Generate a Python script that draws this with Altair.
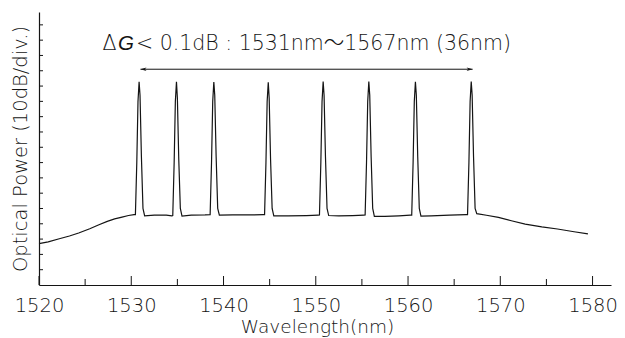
import altair as alt
import pandas as pd

# ---- spectrum trace (wavelength nm, optical power in arbitrary dB units; 5 units = half division)
wavelength = [
    1520.0, 1521.0, 1522.2, 1523.3, 1524.3, 1525.5, 1526.5, 1527.4, 1528.2, 1529.0, 1529.7, 1530.3,
    1530.45, 1530.6, 1530.73, 1530.85, 1530.95, 1531.1, 1531.27, 1531.45,
    1532.5, 1533.8, 1534.4,
    1534.5, 1534.65, 1534.78, 1534.9, 1535.0, 1535.15, 1535.32, 1535.5,
    1536.5, 1538.0,
    1538.55, 1538.7, 1538.83, 1538.95, 1539.05, 1539.2, 1539.37, 1539.55,
    1541.0, 1543.0, 1544.3,
    1544.45, 1544.6, 1544.73, 1544.85, 1544.95, 1545.1, 1545.27, 1545.45,
    1547.0, 1549.0, 1550.25,
    1550.4, 1550.55, 1550.68, 1550.8, 1550.9, 1551.05, 1551.22, 1551.4,
    1552.5, 1554.0, 1555.2,
    1555.35, 1555.5, 1555.63, 1555.75, 1555.85, 1556.0, 1556.17, 1556.35,
    1557.5, 1559.0, 1560.25,
    1560.4, 1560.55, 1560.68, 1560.8, 1560.9, 1561.05, 1561.22, 1561.4,
    1562.5, 1564.5, 1566.3,
    1566.45, 1566.6, 1566.73, 1566.85, 1566.95, 1567.1, 1567.27, 1567.45,
    1568.5, 1569.8, 1571.2, 1572.7, 1574.5, 1576.2, 1578.0, 1579.5,
]
power = [
    13.5, 14.1, 15.1, 16.0, 17.0, 18.4, 19.7, 20.8, 21.6, 22.2, 22.7, 23.0,
    23.0, 40.0, 60.0, 66.4, 62.0, 42.0, 25.0, 22.6,
    22.8, 22.8, 22.6,
    22.7, 40.0, 60.0, 66.4, 61.0, 41.0, 25.0, 22.5,
    22.8, 22.9,
    23.0, 40.0, 60.0, 66.3, 62.0, 42.0, 25.0, 22.8,
    22.9, 22.9, 23.0,
    23.0, 40.0, 60.0, 66.2, 61.0, 41.0, 25.0, 22.6,
    22.6, 22.7, 22.8,
    22.9, 40.0, 60.0, 66.5, 62.0, 42.0, 25.0, 22.7,
    22.6, 22.7, 22.8,
    22.9, 40.0, 60.0, 66.5, 62.0, 42.0, 25.0, 22.4,
    22.4, 22.6, 22.8,
    22.8, 40.0, 60.0, 66.4, 62.0, 42.0, 25.0, 22.5,
    22.6, 22.8, 23.0,
    23.0, 40.0, 60.0, 66.5, 62.0, 42.0, 25.0, 23.3,
    22.8, 22.1, 21.0, 19.9, 19.0, 18.3, 17.4, 16.7,
]

x_major_ticks = [1520, 1530, 1540, 1550, 1560, 1570, 1580]
x_minor_ticks = [1525, 1535, 1545, 1555, 1565, 1575]
y_ticks = [5, 10, 15, 20, 25, 30, 35, 40, 45, 50, 55, 60, 65, 70, 75, 80, 85]

arrow_from, arrow_to, arrow_level = 1531, 1567, 70.5
label_delta = "Δ"
label_g = "G"
label_rest = "< 0.1dB : 1531nm～1567nm (36nm)"
label_delta_x, label_g_x, label_rest_x, label_y = 1528.4, 1530.3, 1530.51, 76.8

W, H = 572, 273
FONT = "DejaVu Sans, Noto Sans CJK JP"
INK = "#141414"
WEIGHT = 200

xs = alt.Scale(domain=[1520, 1582], nice=False, zero=False)
ys = alt.Scale(domain=[0, 89.2], nice=False, zero=False)

X_AXIS = alt.Axis(
    values=x_major_ticks, format="d", ticks=False, grid=False, domainColor=INK, domainWidth=1.2,
    labelFont=FONT, labelFontSize=19.5, labelFontWeight=WEIGHT, labelColor=INK, labelPadding=11,
    labelFlush=False,
    title="Wavelength(nm)", titleFont=FONT, titleFontSize=18.5, titleFontWeight=WEIGHT,
    titleColor=INK, titlePadding=3, titleX=278)
Y_AXIS = alt.Axis(
    labels=False, ticks=False, grid=False, domainColor=INK, domainWidth=1.2,
    title="Optical Power (10dB/div.)", titleFont=FONT, titleFontSize=19.5,
    titleFontWeight=WEIGHT, titleColor=INK, titlePadding=9)


def xenc(field="wl"):
    return alt.X(f"{field}:Q", scale=xs, axis=X_AXIS)


def yenc(field="p"):
    return alt.Y(f"{field}:Q", scale=ys, axis=Y_AXIS)


trace = pd.DataFrame({"wl": wavelength, "p": power})
line = alt.Chart(trace).mark_line(color=INK, strokeWidth=1.2).encode(x=xenc(), y=yenc())

xmaj = alt.Chart(pd.DataFrame({"wl": x_major_ticks})).mark_rule(color=INK, strokeWidth=1).encode(
    x=xenc(), y=alt.value(H), y2=alt.value(H - 9))
xmin = alt.Chart(pd.DataFrame({"wl": x_minor_ticks})).mark_rule(color=INK, strokeWidth=1).encode(
    x=xenc(), y=alt.value(H), y2=alt.value(H - 6))
ytk = alt.Chart(pd.DataFrame({"p": y_ticks})).mark_rule(color=INK, strokeWidth=1).encode(
    y=yenc(), x=alt.value(0), x2=alt.value(4))

arr_df = pd.DataFrame({"wl": [arrow_from], "b": [arrow_to], "p": [arrow_level]})
arrow = alt.Chart(arr_df).mark_rule(color=INK, strokeWidth=1).encode(
    x=xenc(), x2="b:Q", y=yenc())

right_head = "M0,0 L-2,-0.55 L-1.45,0 L-2,0.55 Z"
left_head = "M0,0 L2,-0.55 L1.45,0 L2,0.55 Z"
headR = alt.Chart(pd.DataFrame({"wl": [arrow_to], "p": [arrow_level]})).mark_point(
    shape=right_head, filled=True, size=36, color=INK, opacity=1).encode(x=xenc(), y=yenc())
headL = alt.Chart(pd.DataFrame({"wl": [arrow_from], "p": [arrow_level]})).mark_point(
    shape=left_head, filled=True, size=36, color=INK, opacity=1).encode(x=xenc(), y=yenc())


def txt(s, xv, align, style="normal", weight=WEIGHT, font=FONT):
    return alt.Chart(pd.DataFrame({"wl": [xv], "p": [label_y], "s": [s]})).mark_text(
        font=font, fontSize=20.5, fontStyle=style, fontWeight=weight, color=INK, align=align,
        baseline="alphabetic").encode(x=xenc(), y=yenc(), text="s:N")


t1 = txt(label_delta, label_delta_x, "right")
t2 = txt(label_g, label_g_x, "right", "italic", 300, "Liberation Sans")
t3 = txt(label_rest, label_rest_x, "left")

chart = alt.layer(line, xmaj, xmin, ytk, arrow, headR, headL, t1, t2, t3).properties(
    width=W, height=H,
    padding={"left": 31, "top": 4, "right": 6, "bottom": 54},
    autosize=alt.AutoSizeParams(type="none"),
    background="white",
).configure_view(stroke=None)

chart.save("out.html", embed_options={"renderer": "svg", "actions": False})
